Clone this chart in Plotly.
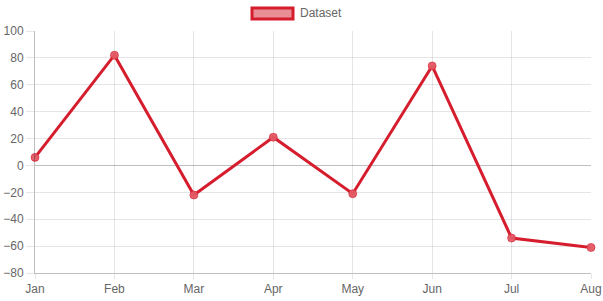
import plotly.graph_objects as go

months = ["Jan", "Feb", "Mar", "Apr", "May", "Jun", "Jul", "Aug"]
values = [6, 82, -22, 21, -21, 74, -54, -61]
y_ticks = [-80, -60, -40, -20, 0, 20, 40, 60, 80, 100]
series_name = "Dataset"

red = "rgb(214,29,46)"
red_fill = "rgba(214,29,46,0.5)"
grid = "rgba(0,0,0,0.1)"
axis = "rgba(0,0,0,0.25)"

fig = go.Figure()
fig.add_trace(go.Scatter(
    x=list(range(len(months))), y=values, mode="lines+markers",
    name=series_name,
    line=dict(color=red, width=3),
    marker=dict(size=8, color="rgba(226,90,100,0.95)", line=dict(color="rgba(214,29,46,0.6)", width=1)),
    showlegend=False, cliponaxis=False,
))

fig.update_layout(
    width=603, height=301,
    margin=dict(l=35, r=12, t=31, b=28, autoexpand=False),
    paper_bgcolor="white", plot_bgcolor="white",
    font=dict(family="Liberation Sans, Arial, sans-serif", size=12, color="#666"),
    xaxis=dict(
        range=[0, len(months) - 1], automargin=False,
        tickmode="array", tickvals=list(range(len(months))), ticktext=months,
        showgrid=True, gridcolor=grid, gridwidth=1,
        showline=True, linecolor=axis, linewidth=1,
        ticks="outside", ticklen=5, tickcolor=grid,
        zeroline=False,
    ),
    yaxis=dict(
        range=[-80, 100], automargin=False,
        tickmode="array", tickvals=y_ticks,
        showgrid=True, gridcolor=grid, gridwidth=1,
        showline=True, linecolor=axis, linewidth=1,
        ticks="outside", ticklen=8, tickcolor=grid,
        zeroline=True, zerolinecolor=axis, zerolinewidth=1,
    ),
    shapes=[dict(
        type="rect", xref="paper", yref="paper",
        x0=(252 - 35) / 556, x1=(293 - 35) / 556,
        y0=1 + (31 - 19) / 242, y1=1 + (31 - 8) / 242,
        fillcolor=red_fill, line=dict(color=red, width=3),
    )],
    annotations=[dict(
        text=series_name, xref="paper", yref="paper",
        x=(298 - 35) / 556, y=1 + (31 - 13.5) / 242,
        xanchor="left", yanchor="middle", showarrow=False,
        font=dict(size=12, color="#666"),
    )],
)

fig.write_html("out.html")
